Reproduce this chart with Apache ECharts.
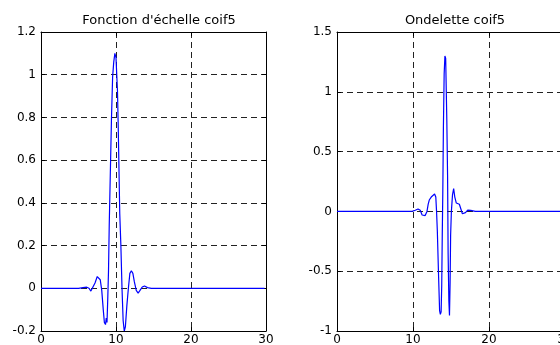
<!DOCTYPE html>
<html>
<head>
<meta charset="utf-8">
<script src="https://cdn.jsdelivr.net/npm/echarts@6/dist/echarts.min.js"></script>
<style>html,body{margin:0;padding:0;background:#fff;}#c{width:560px;height:345px;}</style>
</head>
<body>
<div id="c"></div>
<script>
// Titles
const titlePhi = "Fonction d'échelle coif5";
const titlePsi = "Ondelette coif5";

// Scaling function (left)
const phiX = [0, 5, 5.6, 6.1, 6.4, 6.65, 6.9, 7.2, 7.5, 7.75, 7.9, 8.1, 8.3, 8.45, 8.6, 8.7, 8.8, 8.9, 9.0, 9.1, 9.25, 9.4, 9.55, 9.7, 9.85, 10.0, 10.1, 10.2, 10.3, 10.4, 10.5, 10.65, 10.8, 10.95, 11.1, 11.25, 11.45, 11.65, 11.85, 12.05, 12.25, 12.45, 12.7, 12.95, 13.2, 13.5, 13.8, 14.2, 14.7, 29.8];
const phiY = [0, 0, 0.003, 0.005, 0.0, -0.013, -0.005, 0.025, 0.055, 0.058, 0.04, -0.01, -0.1, -0.16, -0.17, -0.14, -0.16, -0.05, 0.08, 0.3, 0.55, 0.8, 0.99, 1.06, 1.10, 1.08, 1.00, 0.92, 0.75, 0.55, 0.35, 0.2, 0.0, -0.15, -0.2, -0.18, -0.08, 0.0, 0.07, 0.082, 0.07, 0.03, -0.01, -0.023, -0.01, 0.006, 0.011, 0.003, 0, 0];

// Wavelet (right)
const psiX = [0, 9.5, 9.95, 10.3, 10.66, 10.95, 11.2, 11.4, 11.6, 11.84, 12.0, 12.14, 12.4, 12.65, 12.84, 13.0, 13.1, 13.2, 13.37, 13.5, 13.6, 13.7, 13.78, 13.85, 13.92, 14.0, 14.1, 14.2, 14.3, 14.38, 14.45, 14.55, 14.62, 14.72, 14.8, 14.88, 14.95, 15.05, 15.2, 15.35, 15.5, 15.7, 15.9, 16.1, 16.3, 16.5, 16.66, 16.9, 17.2, 17.6, 18.2, 29.8];
const psiY = [0, 0, 0.002, 0.01, 0.02, 0.01, -0.03, -0.045, -0.035, 0.0, 0.06, 0.095, 0.12, 0.135, 0.145, 0.12, 0.0, -0.16, -0.55, -0.83, -0.86, -0.84, -0.62, -0.2, 0.15, 0.7, 1.15, 1.30, 1.28, 1.0, 0.76, 0.3, -0.35, -0.75, -0.87, -0.6, -0.2, 0.0, 0.14, 0.19, 0.12, 0.07, 0.08, 0.06, 0.02, -0.02, -0.03, -0.01, 0.01, 0.008, 0, 0];

const zip = (xs, ys) => xs.map((x, i) => [x, ys[i]]);

const font = { fontFamily: 'DejaVu Sans', fontSize: 12, color: '#000' };
const dash = { color: '#222', width: 1, type: [6, 4] };
const line = { show: true, onZero: false, lineStyle: { color: '#000', width: 1 } };
const tick = { show: true, inside: true, length: 4, lineStyle: { color: '#000' } };

function mainX(gi) {
  return { type: 'value', gridIndex: gi, min: 0, max: 30, interval: 10, position: 'bottom',
    axisLine: line, axisTick: tick, axisLabel: Object.assign({ margin: 3 }, font),
    splitLine: { show: true, lineStyle: dash } };
}
function mainY(gi, min, max, iv) {
  return { type: 'value', gridIndex: gi, min: min, max: max, interval: iv, position: 'left',
    axisLine: line, axisTick: tick, axisLabel: Object.assign({ margin: 5 }, font),
    splitLine: { show: true, lineStyle: dash } };
}
function boxX(gi) {
  return { type: 'value', gridIndex: gi, min: 0, max: 30, interval: 10, position: 'top',
    axisLine: line, axisTick: tick, axisLabel: { show: false }, splitLine: { show: false } };
}
function boxY(gi, min, max, iv) {
  return { type: 'value', gridIndex: gi, min: min, max: max, interval: iv, position: 'right',
    axisLine: line, axisTick: tick, axisLabel: { show: false }, splitLine: { show: false } };
}

const chart = echarts.init(document.getElementById('c'), null, { renderer: 'canvas' });
const titleStyle = { fontFamily: 'DejaVu Sans', fontSize: 13, fontWeight: 'normal', color: '#000' };
chart.setOption({
  animation: false,
  backgroundColor: '#fff',
  title: [
    { text: titlePhi, left: 154, top: 9, textAlign: 'center', textStyle: titleStyle },
    { text: titlePsi, left: 450, top: 9, textAlign: 'center', textStyle: titleStyle }
  ],
  grid: [
    { left: 41, top: 32, width: 225, height: 299, show: false, containLabel: false, outerBoundsMode: 'none' },
    { left: 337, top: 32, width: 228, height: 299, show: false, containLabel: false, outerBoundsMode: 'none' }
  ],
  xAxis: [mainX(0), mainX(1), boxX(0), boxX(1)],
  yAxis: [mainY(0, -0.2, 1.2, 0.2), mainY(1, -1, 1.5, 0.5), boxY(0, -0.2, 1.2, 0.2), boxY(1, -1, 1.5, 0.5)],
  series: [
    { type: 'line', xAxisIndex: 0, yAxisIndex: 0, data: zip(phiX, phiY), showSymbol: false,
      lineStyle: { color: '#0000ff', width: 1.2 }, clip: true },
    { type: 'line', xAxisIndex: 1, yAxisIndex: 1, data: zip(psiX, psiY), showSymbol: false,
      lineStyle: { color: '#0000ff', width: 1.2 }, clip: true }
  ]
});
</script>
</body>
</html>
